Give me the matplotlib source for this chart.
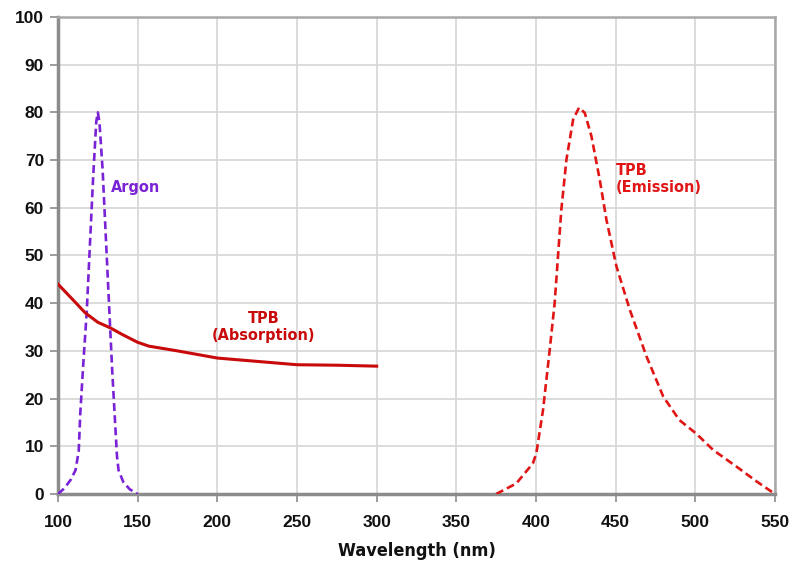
import matplotlib
matplotlib.use("Agg")
import matplotlib.pyplot as plt

# ---- data ----
argon_x = [100, 104, 108, 111, 113, 114, 116, 118, 120, 122, 124, 125, 126, 128, 130, 132, 134, 136, 137, 138, 141, 145, 150]
argon_y = [0, 1.2, 3.0, 5.0, 9.0, 17, 28, 38, 52, 66, 78, 80, 78, 68, 54, 40, 26, 14, 8, 5, 2.5, 1.0, 0]

abs_x = [100, 110, 117, 125, 133, 140, 150, 157, 175, 200, 225, 250, 275, 300]
abs_y = [44, 40.5, 38, 36, 34.8, 33.5, 31.8, 31, 30, 28.5, 27.8, 27.1, 27.0, 26.8]

em_x = [375, 387.6, 398, 400.2, 404.4, 408.6, 411.7, 413.8, 415.9, 419.1, 423.3, 427, 430.6, 434.8, 440, 444.2, 450.5, 458.9, 469.4, 479.9, 490, 500.4, 511.3, 526, 538.6, 550]
em_y = [0, 2.2, 6.4, 8.5, 17.6, 30.2, 40, 49.8, 59.6, 70.1, 78.5, 81, 79.9, 75, 65.9, 57.5, 47.7, 38.6, 28.8, 20.4, 15.5, 12.7, 9.2, 5.7, 2.6, 0]

x_ticks = [100, 150, 200, 250, 300, 350, 400, 450, 500, 550]
y_ticks = [0, 10, 20, 30, 40, 50, 60, 70, 80, 90, 100]

plt.rcParams['font.family'] = ['Liberation Sans', 'DejaVu Sans']

purple = "#7a22d6"
red_abs = "#c80a0a"
red_em = "#e01515"

cond = dict(family='DejaVu Sans', stretch='condensed', weight='bold')

fig = plt.figure(figsize=(7.91, 5.62), dpi=100)
ax = fig.add_axes([58/791, 1-494/562, (775-58)/791, (494-17)/562])

ax.plot(argon_x, argon_y, color=purple, lw=1.9, ls=(0, (3, 1.6)), zorder=3)
ax.plot(abs_x, abs_y, color=red_abs, lw=2.2, zorder=3)
ax.plot(em_x, em_y, color=red_em, lw=1.9, ls=(0, (3, 1.6)), zorder=3)

ax.set_xlim(100, 550)
ax.set_ylim(0, 100)
ax.set_xticks(x_ticks)
ax.set_yticks(y_ticks)
ax.grid(True, color="#d6d6d6", lw=1.2, zorder=0)
ax.set_axisbelow(True)

for s in ['left', 'bottom']:
    ax.spines[s].set_color("#8c8c8c")
    ax.spines[s].set_linewidth(2.5)
for s in ['top', 'right']:
    ax.spines[s].set_color("#a8a8a8")
    ax.spines[s].set_linewidth(1.8)

ax.tick_params(axis='both', colors="#8c8c8c", length=6, width=1.2, labelcolor="#111111",
               labelsize=12.5)
ax.tick_params(axis='x', pad=9)
ax.tick_params(axis='y', pad=4)
for lab in ax.get_xticklabels() + ax.get_yticklabels():
    lab.set_fontweight('bold')

ax.set_xlabel("Wavelength (nm)", fontsize=13, labelpad=9, color="#111111", **cond)

ax.text(133, 64.3, "Argon", color=purple, fontsize=11.6, ha='left', va='center', **cond)
ax.text(229, 35, "TPB\n(Absorption)", color=red_abs, fontsize=11.6, ha='center', va='center', linespacing=1.2, **cond)
ax.text(450, 66, "TPB\n(Emission)", color=red_em, fontsize=11.6, ha='left', va='center', linespacing=1.2, **cond)

fig.savefig("out.png", dpi=100)
